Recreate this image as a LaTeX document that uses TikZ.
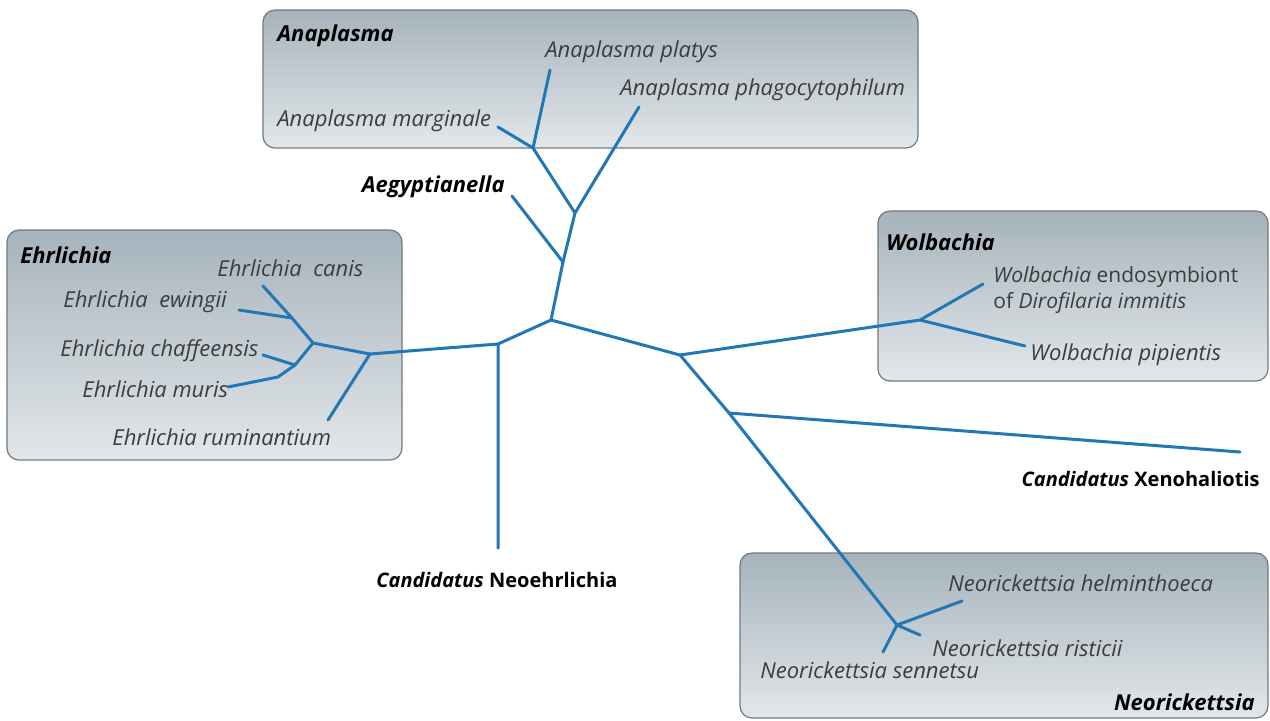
\documentclass[tikz,border=0pt]{standalone}
\usepackage{fontspec}
\setmainfont{Open Sans}
\definecolor{branch}{HTML}{2277B5}
\definecolor{boxtop}{HTML}{A6B3BC}
\definecolor{boxbot}{HTML}{E2E7EA}
\definecolor{boxline}{HTML}{6E7A82}
\definecolor{leaftext}{HTML}{3C3C3C}
\tikzset{
  clade/.style={draw=boxline, rounded corners=6pt, top color=boxtop, bottom color=boxbot, line width=0.6pt},
  branchline/.style={draw=branch, line width=1.5pt, line cap=round, line join=round},
  species/.style={text=leaftext, font=\fontsize{11}{12.5}\selectfont\itshape, inner sep=0pt},
  genus/.style={text=black, font=\fontsize{11}{13}\selectfont\bfseries\itshape, inner sep=0pt},
  candidatus/.style={text=black, font=\fontsize{10}{12}\selectfont\bfseries, inner sep=0pt},
}
\begin{document}
\begin{tikzpicture}[x=0.5pt,y=-0.5pt]
    \useasboundingbox (0,0) rectangle (1270,720);
    % clade boxes
    \draw[clade] (263,10) rectangle (918,148);
    \draw[clade] (7,230) rectangle (402,460);
    \draw[clade] (878,211) rectangle (1268,381);
    \draw[clade] (740,553) rectangle (1268,718);
    % junctions
    \coordinate (root) at (551,320);
    \coordinate (aegj) at (563,262);
    \coordinate (anaj) at (575,213);
    \coordinate (marj) at (533,148);
    \coordinate (neoj) at (498,344);
    \coordinate (ehrj) at (370,354);
    \coordinate (ehrk) at (313,343);
    \coordinate (canj) at (292,318);
    \coordinate (chaj) at (295,365);
    \coordinate (murb) at (278,377);
    \coordinate (wolr) at (680,355);
    \coordinate (wolj) at (920,320);
    \coordinate (xenj) at (729,413);
    \coordinate (nrkj) at (897,625);
    % leaves
    \coordinate (aeg) at (512,196);
    \coordinate (pha) at (639,107);
    \coordinate (pla) at (550,70);
    \coordinate (mar) at (498,127);
    \coordinate (neo) at (498,548);
    \coordinate (rum) at (328,420);
    \coordinate (can) at (263,286);
    \coordinate (ewi) at (239,310);
    \coordinate (cha) at (263,355);
    \coordinate (mur) at (228,387);
    \coordinate (dir) at (983,284);
    \coordinate (pip) at (1025,346);
    \coordinate (xen) at (1240,452);
    \coordinate (hel) at (962,601);
    \coordinate (ris) at (920,635);
    \coordinate (sen) at (883,652);
    % branches
    \draw[branchline] (root) -- (aegj) -- (anaj) -- (pha);
    \draw[branchline] (aegj) -- (aeg);
    \draw[branchline] (anaj) -- (marj) -- (pla);
    \draw[branchline] (marj) -- (mar);
    \draw[branchline] (root) -- (neoj) -- (neo);
    \draw[branchline] (neoj) -- (ehrj) -- (rum);
    \draw[branchline] (ehrj) -- (ehrk) -- (canj) -- (can);
    \draw[branchline] (canj) -- (ewi);
    \draw[branchline] (ehrk) -- (chaj) -- (cha);
    \draw[branchline] (chaj) -- (murb) -- (mur);
    \draw[branchline] (root) -- (wolr) -- (wolj) -- (dir);
    \draw[branchline] (wolj) -- (pip);
    \draw[branchline] (wolr) -- (xenj) -- (nrkj) -- (hel);
    \draw[branchline] (xenj) -- (xen);
    \draw[branchline] (nrkj) -- (ris);
    \draw[branchline] (nrkj) -- (sen);
    % labels
    \node[genus, anchor=west] (anaplasma) at (277,36) {Anaplasma};
    \node[species, anchor=west] (platys) at (545,52) {Anaplasma platys};
    \node[species, anchor=west] (phago) at (620,90) {Anaplasma phagocytophilum};
    \node[species, anchor=west] (marginale) at (277,121) {Anaplasma marginale};
    \node[genus, anchor=east] (aegyptianella) at (505,187) {Aegyptianella};
    \node[genus, anchor=west] (ehrlichia) at (20,255) {Ehrlichia};
    \node[species, anchor=west] (canis) at (217,268) {Ehrlichia~~canis};
    \node[species, anchor=west] (ewingii) at (63,302) {Ehrlichia~~ewingii};
    \node[species, anchor=west] (chaffeensis) at (60,351) {Ehrlichia chaffeensis};
    \node[species, anchor=west] (muris) at (82,389) {Ehrlichia muris};
    \node[species, anchor=west] (ruminantium) at (112,437) {Ehrlichia ruminantium};
    \node[candidatus, anchor=west] (neoehrlichia) at (376,580) {\textit{Candidatus} Neoehrlichia};
    \node[genus, anchor=west] (wolbachia) at (886,242) {Wolbachia};
    \node[species, anchor=west, align=left, font=\fontsize{10.5}{13}\selectfont] (dirofilaria) at (993,290) {\textit{Wolbachia} endosymbiont\\of \textit{Dirofilaria immitis}};
    \node[species, anchor=west] (pipientis) at (1030,355) {Wolbachia pipientis};
    \node[candidatus, anchor=east] (xenohaliotis) at (1260,479) {\textit{Candidatus} Xenohaliotis};
    \node[species, anchor=west] (helminthoeca) at (948,583) {Neorickettsia helminthoeca};
    \node[species, anchor=west] (risticii) at (932,648) {Neorickettsia risticii};
    \node[species, anchor=west] (sennetsu) at (760,670) {Neorickettsia sennetsu};
    \node[genus, anchor=east] (neorickettsia) at (1255,702) {Neorickettsia};
\end{tikzpicture}
\end{document}
